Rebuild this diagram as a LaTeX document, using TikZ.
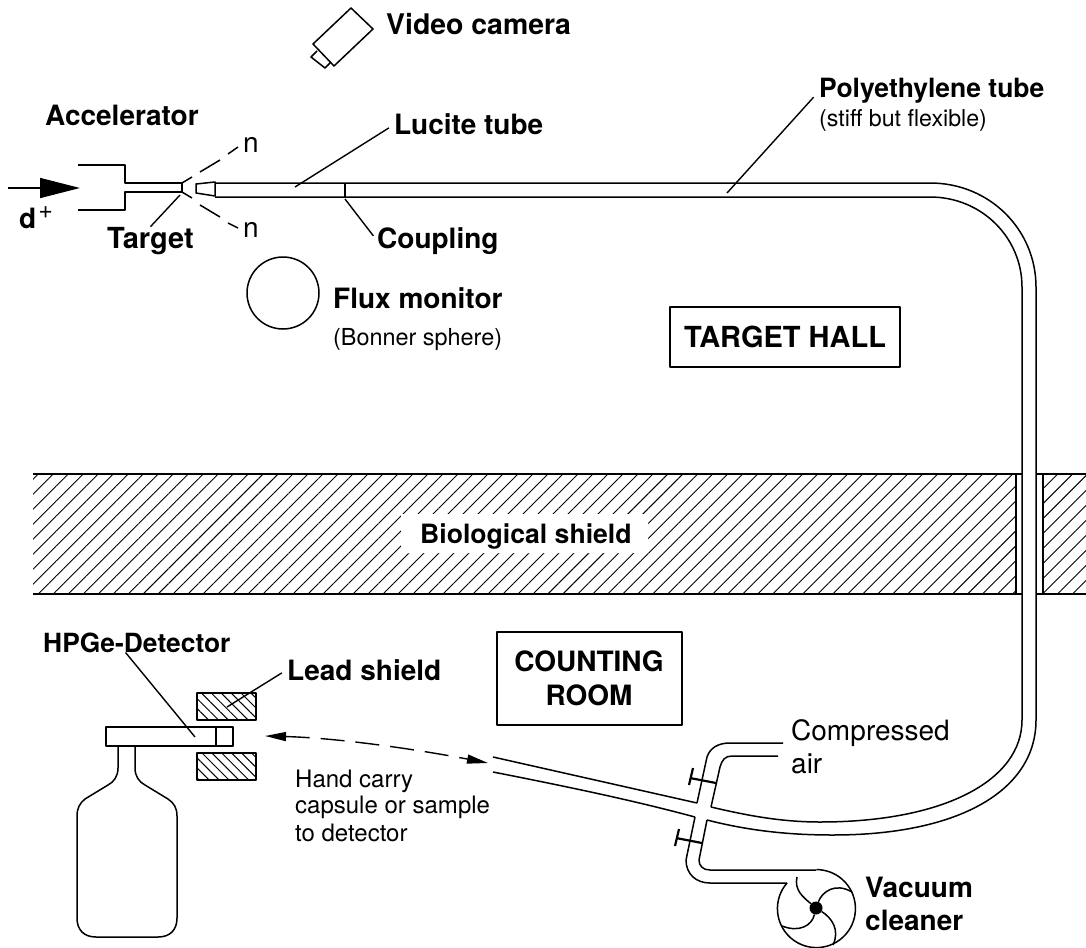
\documentclass[tikz,border=0pt]{standalone}
\usepackage{fontspec}
\setmainfont{TeX Gyre Heros}
\usetikzlibrary{arrows.meta,patterns.meta}

\begin{document}
\begin{tikzpicture}[
  x=1pt,y=-1pt,
  line join=round,
  outline/.style={line width=1.5pt},
  heavy/.style={line width=2.2pt},
  leader/.style={line width=1.4pt,shorten <=6pt},
  lab/.style={anchor=base west,inner sep=0pt,font=\fontsize{28}{32}\selectfont\bfseries},
  note/.style={anchor=base west,inner sep=0pt,font=\fontsize{28}{32}\selectfont},
  small/.style={anchor=base west,inner sep=0pt,font=\fontsize{24}{28}\selectfont},
  room/.style={anchor=base,inner sep=0pt,font=\fontsize{28}{32}\selectfont\bfseries},
  wallhatch/.style={pattern={Lines[angle=45,distance=10.6pt,line width=.9pt]}},
  leadhatch/.style={pattern={Lines[angle=-45,distance=7pt,line width=1pt]}},
  carry/.style={line width=1.4pt,dash pattern=on 24pt off 11pt,
    {Triangle[length=21pt,width=9pt]}-{Triangle[length=21pt,width=9pt]}},
]
  \useasboundingbox (0,0) rectangle (1086,947);
  % ---------------- accelerator ----------------
  \coordinate (beamstart) at (8,188);
  \coordinate (beamtip) at (80,188);
  \draw[outline,-{Triangle[length=40pt,width=20pt]}] (beamstart) -- (beamtip);
  \draw[outline] (78,165) -- (125,165) -- (125,183) -- (182,183) -- (182,192) -- (125,192) -- (125,210) -- (78,210);
  \draw[outline] (182,183) -- (192,177) (182,192) -- (192,198);
  \draw[outline] (200,172) -- (220,160) (228,154) -- (238,147);
  \draw[outline] (200,205) -- (220,217) (228,223) -- (238,228);
  \node[lab] (accel) at (45,125) {Accelerator};
  \node[lab] (deut) at (19,228) {d\kern2pt\raisebox{10pt}{\fontsize{25}{28}\selectfont\mdseries +}};
  \node[note] (nup) at (243,152) {n};
  \node[note] (ndown) at (243,237) {n};
  \node[lab,font=\fontsize{29}{32}\selectfont\bfseries] (target) at (107,248) {Target};
  \coordinate (targetend) at (180,195);
  \draw[leader,shorten <=0pt] (target.north) -- (targetend);
  % ---------------- camera, monitor ----------------
  \draw[outline] (351,8) -- (373,29) -- (334,66) -- (313,44) -- cycle;
  \draw[outline] (317,51) -- (311,57) -- (325,68) -- (331,62);
  \node[lab,font=\fontsize{28.4}{32}\selectfont\bfseries] (camera) at (386,35) {Video camera};
  \node[draw,circle,outline,minimum size=72pt,inner sep=0pt] (monitor) at (283,293) {};
  \node[lab] (flux) at (333,308) {Flux monitor};
  \node[small,font=\fontsize{23.4}{28}\selectfont] (bonner) at (333,345) {(Bonner sphere)};
  % ---------------- shield ----------------
  \fill[wallhatch] (33,474) rectangle (1016,594);
  \fill[wallhatch] (1043,474) rectangle (1086,594);
  \draw[heavy] (33,474) -- (1022,474) (33,594) -- (1022,594) (1016,474) -- (1016,594);
  \draw[heavy] (1036,474) -- (1086,474) (1036,594) -- (1086,594) (1043,474) -- (1043,594);
  \node[fill=white,minimum width=247pt,minimum height=39pt,inner sep=0pt] (bioback) at (524,533) {};
  \node[lab,font=\fontsize{26.6}{30}\selectfont\bfseries] (bio) at (420,543) {Biological shield};
  % ---------------- tube ----------------
  \draw[outline] (196,184) -- (215,182) -- (215,196) -- (196,193) -- cycle;
  \draw[outline] (215,183) -- (930,183) .. controls (990,183) and (1036,230) .. (1036,287) -- (1036,720)
    .. controls (1036,790) and (960,835) .. (833,835) .. controls (790,835) and (750,831) .. (707,820);
  \draw[outline] (215,197) -- (930,197) .. controls (982,197) and (1022,238) .. (1022,287) -- (1022,720)
    .. controls (1022,780) and (945,822) .. (820,822) .. controls (780,822) and (745,815) .. (711,807);
  \draw[outline] (493,757) -- (697,803);
  \draw[outline] (493,772) .. controls (600,793) and (650,805) .. (695,817);
  \draw[heavy] (345,183) -- (345,197);
  \node[lab] (lucite) at (394,135) {Lucite tube};
  \coordinate (luciteend) at (295,187);
  \draw[leader] (lucite.west) -- (luciteend);
  \node[lab] (coupling) at (377,248) {Coupling};
  \coordinate (couplingend) at (345,199);
  \draw[leader] (coupling.west) -- (couplingend);
  \node[lab,font=\fontsize{26.5}{30}\selectfont\bfseries] (poly) at (819,98) {Polyethylene tube};
  \node[small,font=\fontsize{23.2}{28}\selectfont] (stiff) at (819,126) {(stiff but flexible)};
  \coordinate (polyend) at (727,193);
  \draw[leader,shorten <=8pt] (poly.west) -- (polyend);
  % ---------------- branches, valves ----------------
  \draw[outline] (697,803) -- (707,757) .. controls (710,748) and (718,743) .. (730,743) -- (783,743);
  \draw[outline] (711,807) -- (720,767) .. controls (722,760) and (725,756) .. (732,756) -- (778,756);
  \draw[outline] (695,817) -- (686,860) .. controls (686,874) and (696,883) .. (710,883) -- (787,883);
  \draw[outline] (707,820) -- (699,860) .. controls (699,866) and (703,870) .. (710,870) -- (816,870);
  \draw[heavy] (690,778) -- (716,783) (693,768) -- (689,785);
  \draw[heavy] (676,838) -- (702,843) (679,829) -- (675,846);
  \node[note] (comp) at (791,740) {Compressed};
  \node[note] (air) at (791,773) {air};
  % ---------------- vacuum ----------------
  \draw[outline] (787,883) arc[start angle=139,end angle=450,radius=39pt];
  \node[circle,fill=black,minimum size=13pt,inner sep=0pt] (hub) at (816,908) {};
  \draw[outline] (hub) .. controls (803,897) and (794,890) .. (797,877);
  \draw[outline] (hub) .. controls (822,892) and (835,882) .. (852,892);
  \draw[outline] (hub) .. controls (832,918) and (840,930) .. (833,945);
  \draw[outline] (hub) .. controls (812,925) and (800,933) .. (782,926);
  \node[lab] (vacuum) at (865,897) {Vacuum};
  \node[lab] (cleaner) at (865,930) {cleaner};
  % ---------------- rooms ----------------
  \draw[outline] (670,307) rectangle (900,367);
  \node[anchor=base,inner sep=0pt,font=\fontsize{29}{32}\selectfont\bfseries] (hall) at (785,347) {TARGET HALL};
  \draw[outline] (497,632) rectangle (682,725);
  \node[room] (counting) at (589,671) {COUNTING};
  \node[room] (roomname) at (589,705) {ROOM};
  % ---------------- detector ----------------
  \fill[leadhatch] (197,693) rectangle (256,720);
  \draw[outline] (197,693) rectangle (256,720);
  \fill[leadhatch] (197,753) rectangle (256,780);
  \draw[outline] (197,753) rectangle (256,780);
  \draw[outline] (106,727) rectangle (233,746);
  \draw[outline] (216,727) -- (216,746);
  \draw[outline] (118,746) -- (118,768) .. controls (118,776) and (114,782) .. (108,785) -- (85,799)
    .. controls (80,803) and (77,808) .. (77,816) -- (77,918) .. controls (77,930) and (84,937) .. (96,937)
    -- (158,937) .. controls (170,937) and (177,930) .. (177,918) -- (177,816)
    .. controls (177,808) and (174,803) .. (168,799) -- (145,785) .. controls (139,782) and (135,776) .. (135,768) -- (135,746);
  \node[lab,font=\fontsize{26.4}{30}\selectfont\bfseries] (hpge) at (43,652) {HPGe-Detector};
  \coordinate (hpgeend) at (195,737);
  \draw[leader,shorten <=0pt] (hpge.222) -- (hpgeend);
  \node[lab] (leadlab) at (287,680) {Lead shield};
  \coordinate (leadend) at (227,707);
  \draw[leader] (leadlab.west) -- (leadend);
  % ---------------- hand carry ----------------
  \coordinate (carryleft) at (265,736);
  \coordinate (carryright) at (488,763);
  \draw[carry] (carryleft) .. controls (340,738) and (420,750) .. (carryright);
  \node[small] (hand) at (295,787) {Hand carry};
  \node[small] (capsule) at (295,813) {capsule or sample};
  \node[small] (todet) at (295,841) {to detector};
\end{tikzpicture}
\end{document}
